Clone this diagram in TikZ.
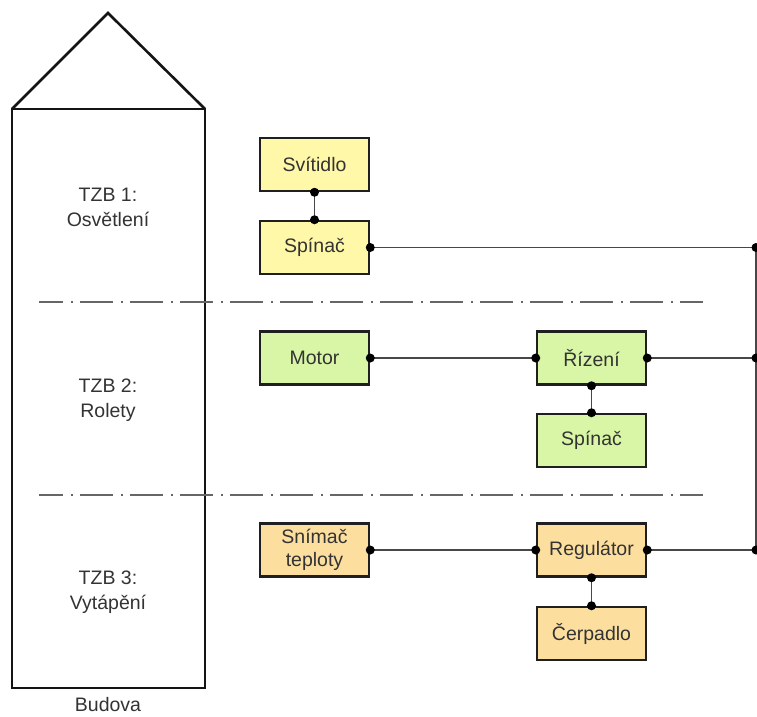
\documentclass[tikz,border=0pt]{standalone}
\usepackage{fontspec}
\setmainfont{Liberation Sans}
\definecolor{ltyellow}{HTML}{FFF8A8}
\definecolor{ltgreen}{HTML}{D8F6A6}
\definecolor{ltorange}{HTML}{FCDE9E}
\begin{document}
\begin{tikzpicture}[x=1pt,y=-1pt,
  every node/.style={font=\fontsize{19.5}{23}\selectfont, text=black!80},
  unit/.style={draw=black!88, line width=2.5pt, minimum width=109pt, minimum height=53pt, align=center, inner sep=2pt},
  yel/.style={unit, fill=ltyellow},
  grn/.style={unit, fill=ltgreen},
  org/.style={unit, fill=ltorange},
  conn/.style={draw=black!72, line width=1.8pt},
  wall/.style={draw=black!92, line width=2.6pt, line join=miter},
  divider/.style={draw=black!60, line width=1.5pt, dash pattern=on 33pt off 8pt on 2pt off 7pt, dash phase=9pt},
  label/.style={align=center, font=\fontsize{19.5}{25}\selectfont}]
\useasboundingbox[fill=white] (0,0) rectangle (757,716);

% building outline with roof
\draw[wall] (12,109) rectangle (205,688);
\draw[wall] (12,109) -- (108,13) -- (205,109);
\node[anchor=base, inner sep=0pt] (budova) at (108,711) {Budova};

% separators between the building systems
\coordinate (d1a) at (39,302);
\coordinate (d1b) at (703,302);
\coordinate (d2a) at (39,495);
\coordinate (d2b) at (703,495);
\draw[divider] (d1a) -- (d1b);
\draw[divider] (d2a) -- (d2b);

% system names
\node[label] (tzb1) at (108,207) {TZB 1:\\Osvětlení};
\node[label] (tzb2) at (108,400) {TZB 2:\\Rolety};
\node[label] (tzb3) at (108,592) {TZB 3:\\Vytápění};

% lighting
\node[yel] (svit)  at (314.5,164.5) {Svítidlo};
\node[yel] (spin1) at (314.5,247.5) {Spínač};
% blinds
\node[grn] (motor)  at (314.5,358) {Motor};
\node[grn] (rizeni) at (591.5,358) {Řízení};
\node[grn] (spin2)  at (591.5,440.5) {Spínač};
% heating
\node[org] (snimac) at (314.5,550) {Snímač\\teploty};
\node[org] (regul)  at (591.5,550) {Regulátor};
\node[org] (cerp)   at (591.5,633.5) {Čerpadlo};

% common bus
\coordinate (b1) at (756,247.5);
\coordinate (b2) at (756,358);
\coordinate (b3) at (756,550);

\draw[conn] (b1) -- (b3);
\draw[conn] (svit.south) -- (spin1.north);
\draw[conn] (spin1.east) -- (b1);
\draw[conn] (motor.east) -- (rizeni.west);
\draw[conn] (rizeni.east) -- (b2);
\draw[conn] (rizeni.south) -- (spin2.north);
\draw[conn] (snimac.east) -- (regul.west);
\draw[conn] (regul.east) -- (b3);
\draw[conn] (regul.south) -- (cerp.north);

% connection points
\foreach \p in {svit.south, spin1.north, spin1.east, b1,
                motor.east, rizeni.west, rizeni.east, rizeni.south, spin2.north, b2,
                snimac.east, regul.west, regul.east, regul.south, cerp.north, b3}
  \fill[black] (\p) circle (4.5pt);
\end{tikzpicture}
\end{document}
